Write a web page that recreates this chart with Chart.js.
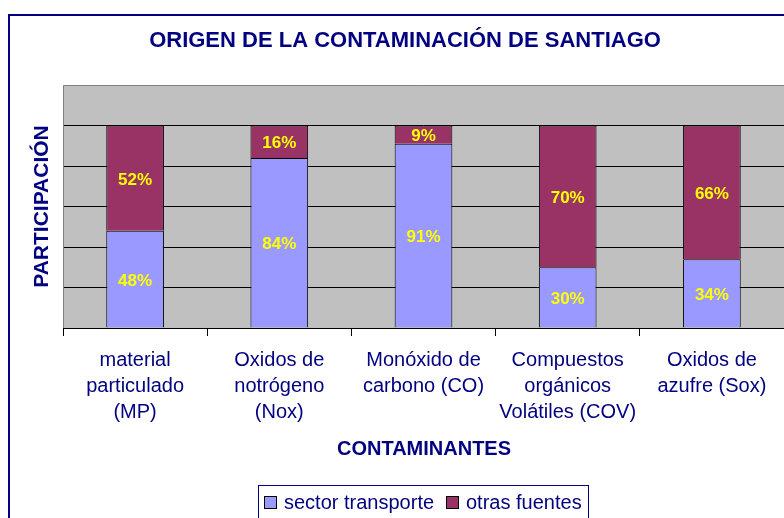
<!DOCTYPE html>
<html>
<head>
<meta charset="utf-8">
<script src="https://cdn.jsdelivr.net/npm/chart.js@4/dist/chart.umd.min.js"></script>
<style>
  html, body { margin: 0; padding: 0; background: #fff; }
</style>
</head>
<body>
<canvas id="grafica" width="784" height="518"></canvas>
<script>
// Datos del gráfico
const categorias = [
    ['material', 'particulado', '(MP)'],
    ['Oxidos de', 'notrógeno', '(Nox)'],
    ['Monóxido de', 'carbono (CO)'],
    ['Compuestos', 'orgánicos', 'Volátiles (COV)'],
    ['Oxidos de', 'azufre (Sox)']
];
const sectorTransporte = [48, 84, 91, 30, 34];
const otrasFuentes = [52, 16, 9, 70, 66];
const nombresSeries = ['sector transporte', 'otras fuentes'];
const coloresSeries = ['#9999FF', '#993366'];

const azul = '#000080';
const fuente = 'Arial, "Liberation Sans", sans-serif';

// Textos, marco, fondo y leyenda al estilo Excel
const decoracion = {
    id: 'decoracion',
    beforeDraw(chart) {
        const c = chart.ctx;
        const a = chart.chartArea;
        c.save();
        c.fillStyle = '#fff';
        c.fillRect(0, 0, chart.width, chart.height);
        c.fillStyle = '#C0C0C0';
        c.fillRect(a.left, a.top, a.right - a.left, a.bottom - a.top);
        c.strokeStyle = azul;
        c.lineWidth = 2;
        c.strokeRect(9, 15, 900, 600);
        c.restore();
    },
    beforeDatasetsDraw(chart) {
        const c = chart.ctx;
        const a = chart.chartArea;
        c.save();
        c.strokeStyle = '#808080';
        c.lineWidth = 1;
        c.beginPath();
        c.moveTo(a.left + 0.5, a.bottom);
        c.lineTo(a.left + 0.5, a.top + 0.5);
        c.lineTo(a.right, a.top + 0.5);
        c.stroke();
        c.restore();
    },
    afterDraw(chart) {
        const c = chart.ctx;
        const area = chart.chartArea;
        c.save();
        c.fillStyle = azul;
        c.textAlign = 'center';
        c.textBaseline = 'middle';
        c.font = 'bold 22px ' + fuente;
        c.fillText('ORIGEN DE LA CONTAMINACIÓN DE SANTIAGO', 405, 41);
        c.font = 'bold 20px ' + fuente;
        c.fillText('CONTAMINANTES', 424, 449);
        c.save();
        c.translate(42, (area.top + area.bottom) / 2);
        c.rotate(-Math.PI / 2);
        c.font = 'bold 21px ' + fuente;
        c.fillText('PARTICIPACIÓN', 0, 0);
        c.restore();

        // leyenda
        c.strokeStyle = azul;
        c.lineWidth = 1;
        c.strokeRect(258.5, 485.5, 330, 50);
        c.font = '20px ' + fuente;
        c.textAlign = 'left';
        const xs = [264, 446];
        nombresSeries.forEach((nombre, i) => {
            c.fillStyle = coloresSeries[i];
            c.fillRect(xs[i], 496, 13, 13);
            c.strokeStyle = '#000';
            c.strokeRect(xs[i] + 0.5, 496.5, 12, 12);
            c.fillStyle = azul;
            c.fillText(nombre, xs[i] + 20, 503);
        });

        // etiquetas de porcentaje
        c.font = 'bold 17px ' + fuente;
        c.textAlign = 'center';
        c.fillStyle = '#FFFF00';
        chart.data.datasets.forEach((ds, di) => {
            chart.getDatasetMeta(di).data.forEach((bar, i) => {
                const y = (bar.y + bar.base) / 2;
                c.fillText(ds.data[i] + '%', bar.x, y + 2);
            });
        });
        c.restore();
    }
};

const ctx = document.getElementById('grafica').getContext('2d');
const grafica = new Chart(ctx, {
    type: 'bar',
    data: {
        labels: categorias,
        datasets: [{
            label: nombresSeries[0],
            data: sectorTransporte,
            backgroundColor: coloresSeries[0],
            borderColor: '#000',
            borderWidth: 1,
            barPercentage: 1,
            categoryPercentage: 0.4
        }, {
            label: nombresSeries[1],
            data: otrasFuentes,
            backgroundColor: coloresSeries[1],
            borderColor: '#000',
            borderWidth: 1,
            barPercentage: 1,
            categoryPercentage: 0.4
        }]
    },
    options: {
        responsive: false,
        animation: false,
        devicePixelRatio: 1,
        layout: { padding: { left: 63, top: 85, right: 0, bottom: 0 } },
        plugins: {
            legend: { display: false },
            title: { display: false },
            tooltip: { enabled: false }
        },
        scales: {
            x: {
                stacked: true,
                afterFit(scale) { scale.height = 190; },
                grid: {
                    offset: true,
                    drawOnChartArea: false,
                    color: '#000',
                    tickLength: 8
                },
                border: { color: '#000', width: 1 },
                ticks: {
                    color: azul,
                    font: { family: fuente, size: 20, lineHeight: 1.28 },
                    padding: 12,
                    maxRotation: 0,
                    autoSkip: false
                }
            },
            y: {
                stacked: true,
                min: 0,
                max: 120,
                afterFit(scale) { scale.width = 0; },
                ticks: { display: false, stepSize: 20 },
                grid: {
                    color: (c) => (c.tick.value === 120 ? 'rgba(0,0,0,0)' : '#000'),
                    drawTicks: false
                },
                border: { display: false }
            }
        }
    },
    plugins: [decoracion]
});
</script>
</body>
</html>
